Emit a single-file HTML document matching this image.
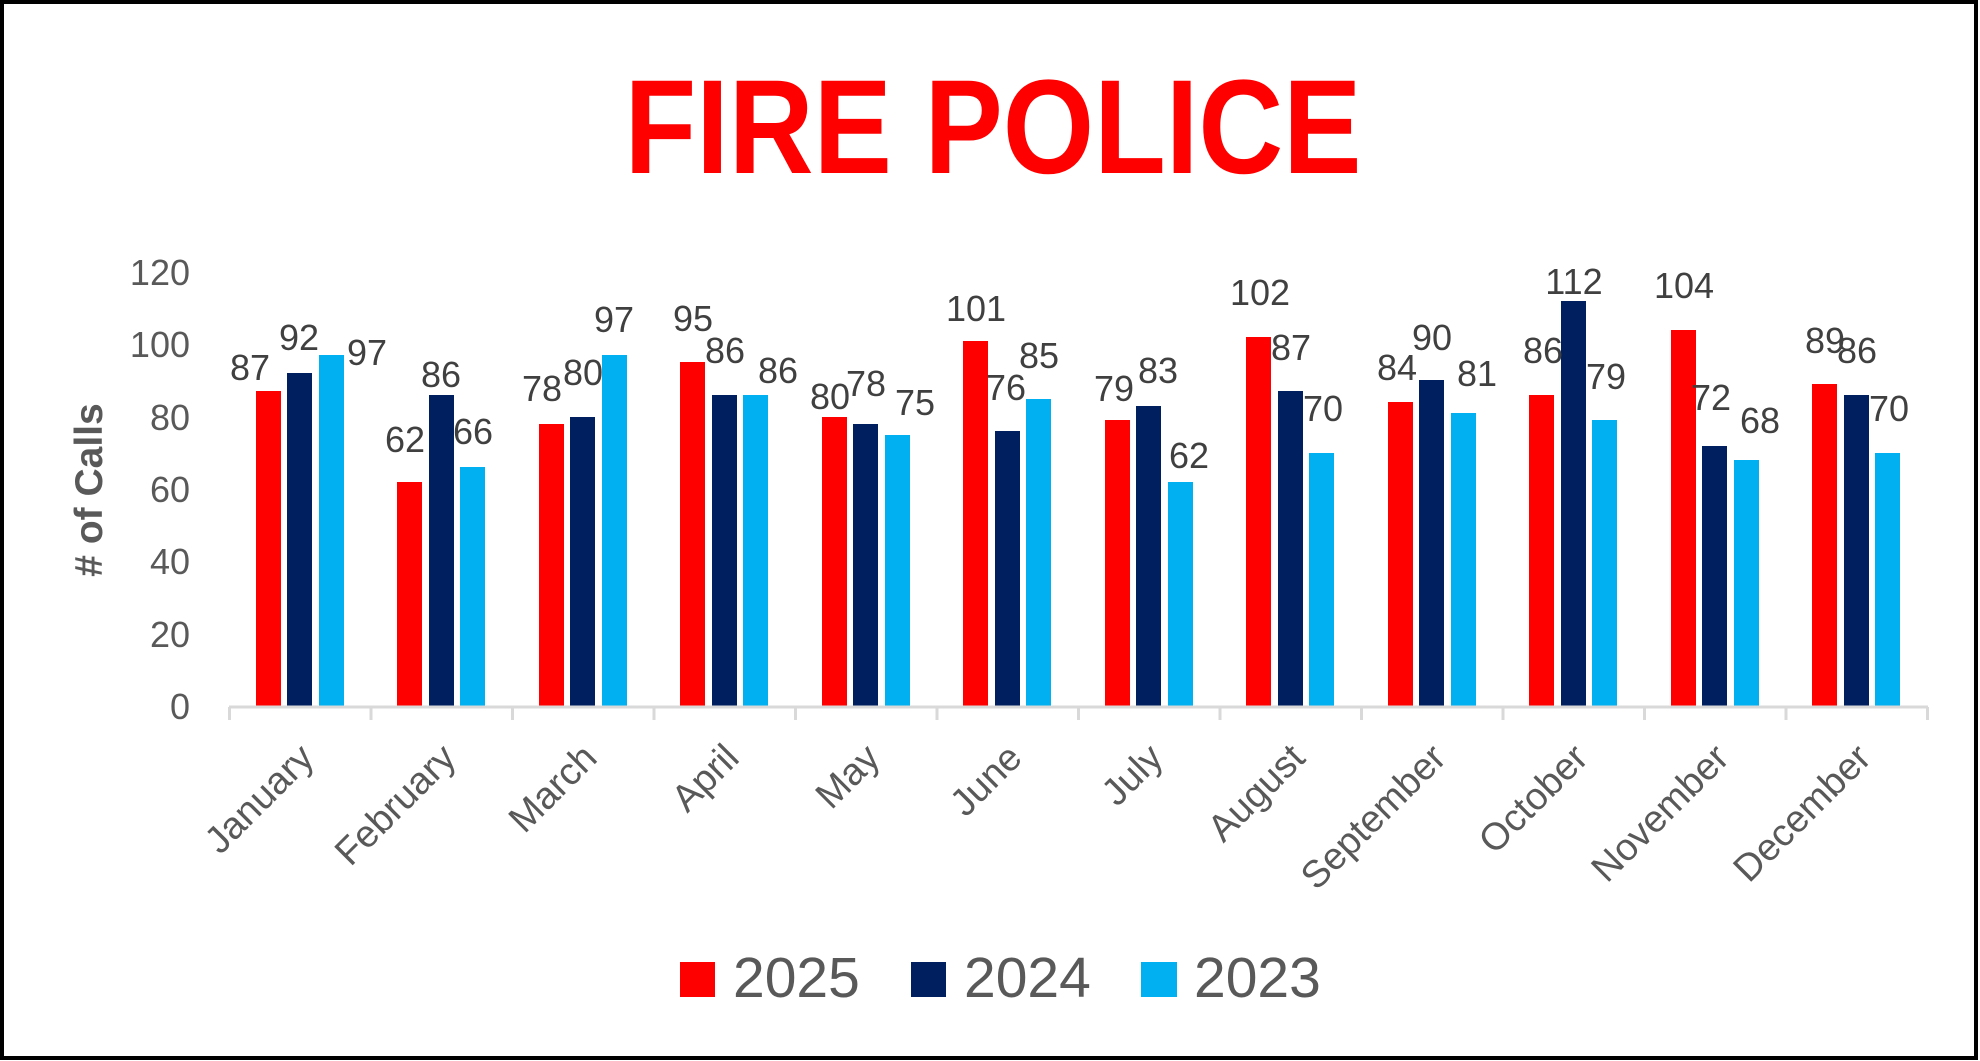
<!DOCTYPE html>
<html><head><meta charset="utf-8"><style>html,body{margin:0;padding:0;background:#fff}svg{display:block}</style></head>
<body>
<svg width="1980" height="1061" viewBox="0 0 1980 1061" xmlns="http://www.w3.org/2000/svg" font-family="Liberation Sans, Arial, sans-serif">
<rect x="0" y="0" width="1980" height="1061" fill="#fff"/>
<rect x="2" y="2" width="1974" height="1056" fill="none" stroke="#000" stroke-width="4"/>
<text x="993" y="173" text-anchor="middle" font-size="134" font-weight="bold" fill="#ff0000" textLength="737" lengthAdjust="spacingAndGlyphs">FIRE POLICE</text>
<g font-size="36" fill="#595959" text-anchor="end">
<text x="190" y="719">0</text><text x="190" y="647">20</text><text x="190" y="574">40</text><text x="190" y="502">60</text><text x="190" y="430">80</text><text x="190" y="357">100</text><text x="190" y="285">120</text>
</g>
<text transform="translate(102,490) rotate(-90)" text-anchor="middle" font-size="39" font-weight="bold" fill="#595959">#  of Calls</text>
<g fill="#ff0000">
<rect x="256" y="391" width="25" height="315"/>
<rect x="397" y="482" width="25" height="224"/>
<rect x="539" y="424" width="25" height="282"/>
<rect x="680" y="362" width="25" height="344"/>
<rect x="822" y="417" width="25" height="289"/>
<rect x="963" y="341" width="25" height="365"/>
<rect x="1105" y="420" width="25" height="286"/>
<rect x="1246" y="337" width="25" height="369"/>
<rect x="1388" y="402" width="25" height="304"/>
<rect x="1529" y="395" width="25" height="311"/>
<rect x="1671" y="330" width="25" height="376"/>
<rect x="1812" y="384" width="25" height="322"/>
</g>
<g fill="#001f5f">
<rect x="287" y="373" width="25" height="333"/>
<rect x="429" y="395" width="25" height="311"/>
<rect x="570" y="417" width="25" height="289"/>
<rect x="712" y="395" width="25" height="311"/>
<rect x="853" y="424" width="25" height="282"/>
<rect x="995" y="431" width="25" height="275"/>
<rect x="1136" y="406" width="25" height="300"/>
<rect x="1278" y="391" width="25" height="315"/>
<rect x="1419" y="380" width="25" height="326"/>
<rect x="1561" y="301" width="25" height="405"/>
<rect x="1702" y="446" width="25" height="260"/>
<rect x="1844" y="395" width="25" height="311"/>
</g>
<g fill="#00b0f0">
<rect x="319" y="355" width="25" height="351"/>
<rect x="460" y="467" width="25" height="239"/>
<rect x="602" y="355" width="25" height="351"/>
<rect x="743" y="395" width="25" height="311"/>
<rect x="885" y="435" width="25" height="271"/>
<rect x="1026" y="399" width="25" height="307"/>
<rect x="1168" y="482" width="25" height="224"/>
<rect x="1309" y="453" width="25" height="253"/>
<rect x="1451" y="413" width="25" height="293"/>
<rect x="1592" y="420" width="25" height="286"/>
<rect x="1734" y="460" width="25" height="246"/>
<rect x="1875" y="453" width="25" height="253"/>
</g>
<g stroke="#d9d9d9" stroke-width="3" fill="none">
<line x1="229" y1="707" x2="1928" y2="707"/>
<path d="M229.5 707v13M371 707v13M512.5 707v13M654 707v13M795.5 707v13M937 707v13M1078.5 707v13M1220 707v13M1361.5 707v13M1503 707v13M1644.5 707v13M1786 707v13M1927.5 707v13"/>
</g>
<g font-size="36" fill="#404040" text-anchor="middle">
<text x="250" y="380">87</text><text x="299" y="350">92</text><text x="367" y="365">97</text>
<text x="405" y="452">62</text><text x="441" y="387">86</text><text x="473" y="444">66</text>
<text x="542" y="401">78</text><text x="583" y="385">80</text><text x="614" y="332">97</text>
<text x="693" y="331">95</text><text x="725" y="363">86</text><text x="778" y="383">86</text>
<text x="830" y="409">80</text><text x="866" y="396">78</text><text x="915" y="415">75</text>
<text x="976" y="321">101</text><text x="1006" y="400">76</text><text x="1039" y="368">85</text>
<text x="1114" y="401">79</text><text x="1158" y="383">83</text><text x="1189" y="468">62</text>
<text x="1260" y="305">102</text><text x="1291" y="360">87</text><text x="1323" y="421">70</text>
<text x="1397" y="380">84</text><text x="1432" y="350">90</text><text x="1477" y="386">81</text>
<text x="1543" y="363">86</text><text x="1574" y="294">112</text><text x="1606" y="389">79</text>
<text x="1684" y="298">104</text><text x="1711" y="410">72</text><text x="1760" y="433">68</text>
<text x="1825" y="353">89</text><text x="1857" y="363">86</text><text x="1889" y="421">70</text>
</g>
<g font-size="38" fill="#595959" text-anchor="end">
<text transform="translate(316,760) rotate(-45)">January</text>
<text transform="translate(458,760) rotate(-45)">February</text>
<text transform="translate(599,760) rotate(-45)">March</text>
<text transform="translate(741,760) rotate(-45)">April</text>
<text transform="translate(882,760) rotate(-45)">May</text>
<text transform="translate(1024,760) rotate(-45)">June</text>
<text transform="translate(1165,760) rotate(-45)">July</text>
<text transform="translate(1307,760) rotate(-45)">August</text>
<text transform="translate(1448,760) rotate(-45)">September</text>
<text transform="translate(1590,760) rotate(-45)">October</text>
<text transform="translate(1731,760) rotate(-45)">November</text>
<text transform="translate(1873,760) rotate(-45)">December</text>
</g>
<rect x="680" y="962" width="35" height="35" fill="#ff0000"/>
<rect x="911" y="962" width="35" height="35" fill="#001f5f"/>
<rect x="1141" y="962" width="36" height="35" fill="#00b0f0"/>
<g font-size="57" fill="#595959">
<text x="733" y="997">2025</text>
<text x="964" y="997">2024</text>
<text x="1194" y="997">2023</text>
</g>
</svg>
</body></html>
